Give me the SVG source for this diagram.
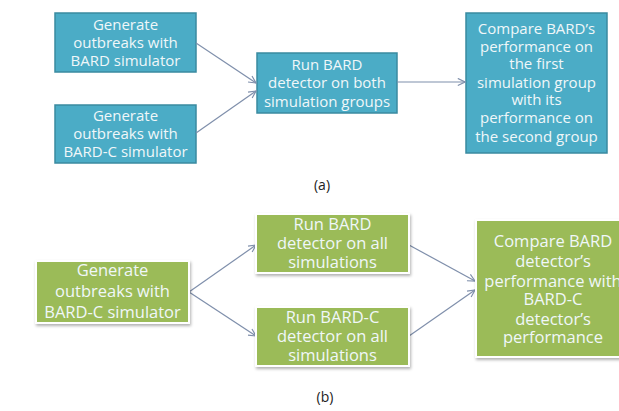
<svg xmlns="http://www.w3.org/2000/svg" width="619" height="411" viewBox="0 0 619 411">
  <defs>
    <marker id="arr" viewBox="0 0 10 10" refX="9" refY="5" markerWidth="9" markerHeight="9" orient="auto" markerUnits="userSpaceOnUse">
      <path d="M1,1 L9,5 L1,9" fill="none" stroke="#7f8fab" stroke-width="1.3"/>
    </marker>
    <filter id="sh" x="-10%" y="-10%" width="130%" height="130%">
      <feDropShadow dx="1" dy="2" stdDeviation="1.5" flood-color="#000" flood-opacity="0.3"/>
    </filter>
  </defs>
  <style>
    .teal { fill: #4bacc6; stroke: #3a8aa0; stroke-width: 1.5; }
    .green { fill: #9bbb59; stroke: #ffffff; stroke-width: 2; filter: url(#sh); }
    .t { font-family: "Open Sans", "Liberation Sans", sans-serif; fill: #f0f7f9; text-anchor: middle; }
    .ta { font-size: 15px; }
    .tb { font-size: 16.5px; }
    .cap { font-family: "Open Sans", "Liberation Sans", sans-serif; font-size: 14px; fill: #222; text-anchor: middle; }
    .conn line { stroke: #7f8fab; stroke-width: 1.2; marker-end: url(#arr); }
  </style>
  <rect width="619" height="411" fill="#ffffff"/>

  <!-- (a) -->
  <g id="a-gen-bard">
    <rect class="teal" x="55" y="13" width="141" height="59"/>
    <text class="t ta" x="125.5" y="30">Generate</text>
    <text class="t ta" x="125.5" y="48">outbreaks with</text>
    <text class="t ta" x="125.5" y="66">BARD simulator</text>
  </g>
  <g id="a-gen-bardc">
    <rect class="teal" x="55" y="105" width="141" height="58"/>
    <text class="t ta" x="125.5" y="121">Generate</text>
    <text class="t ta" x="125.5" y="139">outbreaks with</text>
    <text class="t ta" x="125.5" y="157">BARD-C simulator</text>
  </g>
  <g id="a-run">
    <rect class="teal" x="257" y="53" width="140" height="60"/>
    <text class="t ta" x="327" y="70">Run BARD</text>
    <text class="t ta" x="327" y="88">detector on both</text>
    <text class="t ta" x="327" y="107">simulation groups</text>
  </g>
  <g id="a-compare">
    <rect class="teal" x="466" y="13" width="141" height="140"/>
    <text class="t ta" x="536.5" y="34">Compare BARD’s</text>
    <text class="t ta" x="536.5" y="52">performance on</text>
    <text class="t ta" x="536.5" y="69">the first</text>
    <text class="t ta" x="536.5" y="88">simulation group</text>
    <text class="t ta" x="536.5" y="105">with its</text>
    <text class="t ta" x="536.5" y="123">performance on</text>
    <text class="t ta" x="536.5" y="142">the second group</text>
  </g>
  <g class="conn" id="a-connectors">
    <line x1="196" y1="43" x2="256" y2="83"/>
    <line x1="196" y1="133" x2="256" y2="91"/>
    <line x1="397" y1="82" x2="465" y2="82"/>
  </g>
  <text class="cap" x="322" y="190">(a)</text>

  <!-- (b) -->
  <g class="conn" id="b-connectors">
    <line x1="189" y1="292" x2="256" y2="245"/>
    <line x1="189" y1="292" x2="256" y2="336"/>
    <line x1="409" y1="245" x2="475" y2="281"/>
    <line x1="409" y1="336" x2="475" y2="290"/>
  </g>
  <g id="b-gen">
    <rect class="green" x="36" y="261" width="153" height="62"/>
    <text class="t tb" x="112.5" y="276">Generate</text>
    <text class="t tb" x="112.5" y="297">outbreaks with</text>
    <text class="t tb" x="112.5" y="318">BARD-C simulator</text>
  </g>
  <g id="b-run-bard">
    <rect class="green" x="256" y="214" width="153" height="59"/>
    <text class="t tb" x="332.5" y="230">Run BARD</text>
    <text class="t tb" x="332.5" y="249">detector on all</text>
    <text class="t tb" x="332.5" y="268">simulations</text>
  </g>
  <g id="b-run-bardc">
    <rect class="green" x="256" y="307" width="153" height="59"/>
    <text class="t tb" x="332.5" y="323">Run BARD-C</text>
    <text class="t tb" x="332.5" y="342">detector on all</text>
    <text class="t tb" x="332.5" y="361">simulations</text>
  </g>
  <g id="b-compare">
    <rect class="green" x="476" y="220" width="156" height="137"/>
    <text class="t tb" x="553" y="247">Compare BARD</text>
    <text class="t tb" x="553" y="267">detector’s</text>
    <text class="t tb" x="553" y="287">performance with</text>
    <text class="t tb" x="553" y="305">BARD-C</text>
    <text class="t tb" x="553" y="325">detector’s</text>
    <text class="t tb" x="553" y="343">performance</text>
  </g>
  <text class="cap" x="325" y="402">(b)</text>
</svg>
